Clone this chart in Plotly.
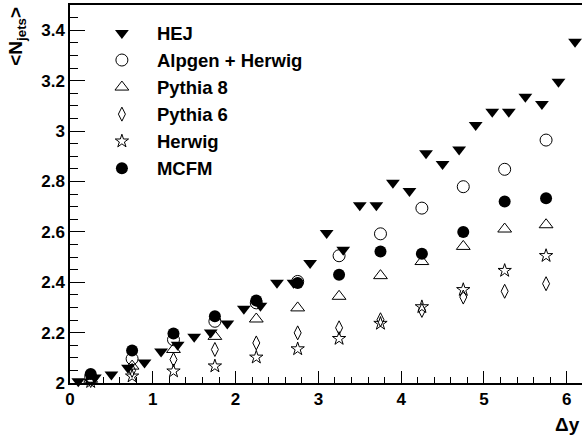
import plotly.graph_objects as go

# HEJ: finer binning (0.2 wide bins)
hej_x = [0.1, 0.3, 0.5, 0.7, 0.9, 1.1, 1.3, 1.5, 1.7, 1.9, 2.1, 2.3, 2.5, 2.7, 2.9,
         3.1, 3.3, 3.5, 3.7, 3.9, 4.1, 4.3, 4.5, 4.7, 4.9, 5.1, 5.3, 5.5, 5.7, 5.9, 6.1]
hej_y = [2.007, 2.022, 2.034, 2.061, 2.081, 2.125, 2.152, 2.184, 2.200, 2.236, 2.295,
         2.307, 2.398, 2.398, 2.476, 2.595, 2.529, 2.705, 2.705, 2.795, 2.762, 2.912,
         2.869, 2.927, 3.024, 3.076, 3.076, 3.136, 3.107, 3.195, 3.354]

# Other generators: 0.5 wide bins
bins_x = [0.25, 0.75, 1.25, 1.75, 2.25, 2.75, 3.25, 3.75, 4.25, 4.75, 5.25, 5.75]
alpgen_y = [2.025, 2.096, 2.172, 2.245, 2.318, 2.403, 2.505, 2.592, 2.694, 2.779, 2.848, 2.964]
pythia8_y = [2.015, 2.067, 2.133, 2.185, 2.254, 2.298, 2.344, 2.426, 2.482, 2.542, 2.611, 2.628]
pythia6_y = [2.010, 2.050, 2.093, 2.133, 2.159, 2.199, 2.219, 2.251, 2.288, 2.341, 2.364, 2.394]
herwig_y = [2.005, 2.027, 2.047, 2.067, 2.102, 2.135, 2.176, 2.236, 2.302, 2.370, 2.446, 2.505]
mcfm_y = [2.036, 2.129, 2.196, 2.265, 2.327, 2.397, 2.430, 2.522, 2.513, 2.599, 2.720, 2.733]

x_ticks = [0, 1, 2, 3, 4, 5, 6]
y_ticks = [2, 2.2, 2.4, 2.6, 2.8, 3, 3.2, 3.4]
y_tick_text = ["2", "2.2", "2.4", "2.6", "2.8", "3", "3.2", "3.4"]

FONT = "Liberation Sans, Arial, Helvetica, sans-serif"
BLK = "black"

fig = go.Figure()
fig.add_trace(go.Scatter(x=hej_x, y=hej_y, mode="markers", name="HEJ", cliponaxis=False,
                         marker=dict(symbol="triangle-down", size=12, color=BLK)))
fig.add_trace(go.Scatter(x=bins_x, y=alpgen_y, mode="markers", name="Alpgen + Herwig", cliponaxis=False,
                         marker=dict(symbol="circle-open", size=12, color=BLK, line=dict(width=1, color=BLK))))
fig.add_trace(go.Scatter(x=bins_x, y=pythia8_y, mode="markers", name="Pythia 8", cliponaxis=False,
                         marker=dict(symbol="triangle-up-open", size=12, color=BLK, line=dict(width=1, color=BLK))))
fig.add_trace(go.Scatter(x=bins_x, y=pythia6_y, mode="markers", name="Pythia 6", cliponaxis=False,
                         marker=dict(symbol="diamond-tall-open", size=10, color=BLK, line=dict(width=1, color=BLK))))
fig.add_trace(go.Scatter(x=bins_x, y=herwig_y, mode="markers", name="Herwig", cliponaxis=False,
                         marker=dict(symbol="star-open", size=10, color=BLK, line=dict(width=1, color=BLK))))
fig.add_trace(go.Scatter(x=bins_x, y=mcfm_y, mode="markers", name="MCFM", cliponaxis=False,
                         marker=dict(symbol="circle", size=12, color=BLK)))

fig.update_layout(
    width=582, height=438,
    margin=dict(l=70, r=0, t=5, b=55, autoexpand=False),
    paper_bgcolor="white", plot_bgcolor="white",
    font=dict(family=FONT, color=BLK, size=17, weight="bold"),
    showlegend=True,
    legend=dict(x=0.033, y=0.975, xanchor="left", yanchor="top",
                bgcolor="rgba(0,0,0,0)", borderwidth=0, itemwidth=60,
                font=dict(family=FONT, size=18.5, color=BLK, weight="bold"),
                tracegroupgap=0),
    xaxis=dict(range=[0, 6.184], showgrid=False, zeroline=False, automargin=False,
               showline=True, linecolor=BLK, linewidth=1.5, mirror=True,
               ticks="inside", ticklen=12, tickwidth=1.2, tickcolor=BLK,
               tickvals=x_ticks, ticktext=[str(v) for v in x_ticks],
               tickfont=dict(family=FONT, size=17, color=BLK, weight="bold"),
               minor=dict(dtick=0.2, ticks="inside", ticklen=6, tickwidth=1.2, tickcolor=BLK)),
    yaxis=dict(range=[2, 3.5], showgrid=False, zeroline=False, automargin=False,
               showline=True, linecolor=BLK, linewidth=1.5, mirror=False,
               ticks="inside", ticklen=15, tickwidth=1.2, tickcolor=BLK,
               tickvals=y_ticks, ticktext=y_tick_text,
               tickfont=dict(family=FONT, size=17, color=BLK, weight="bold"),
               minor=dict(dtick=0.05, ticks="inside", ticklen=8, tickwidth=1.2, tickcolor=BLK)),
    annotations=[
        dict(text="&lt;N<sub>jets</sub>&gt;", textangle=-90, xref="paper", yref="paper",
             x=-0.105, y=1.0, xanchor="center", yanchor="top", showarrow=False,
             font=dict(family=FONT, size=19, color=BLK, weight="bold")),
        dict(text="Δy", xref="paper", yref="paper", x=1.0, y=-0.11,
             xanchor="right", yanchor="middle", showarrow=False,
             font=dict(family=FONT, size=19, color=BLK, weight="bold")),
    ],
)

fig.write_html("out.html", config={"displayModeBar": False},
               post_script="document.body.style.margin='0';document.body.style.overflow='hidden';")
